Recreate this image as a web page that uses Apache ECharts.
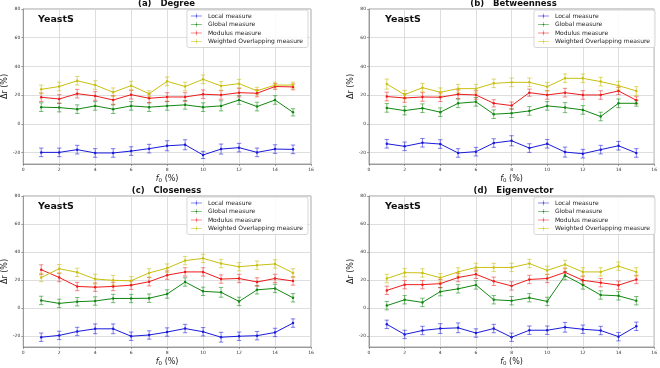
<!DOCTYPE html>
<html>
<head>
<meta charset="utf-8">
<script src="https://cdn.jsdelivr.net/npm/echarts@6/dist/echarts.min.js"></script>
<style>
  html, body { margin: 0; padding: 0; background: #fff; }
  #chart { width: 660px; height: 368px; }
</style>
</head>
<body>
<div id="chart"></div>
<script>
// f0 values (%)
const F0 = [1, 2, 3, 4, 5, 6, 7, 8, 9, 10, 11, 12, 13, 14, 15];
const SERIES_NAMES = ['Local measure', 'Global measure', 'Modulus measure', 'Weighted Overlapping measure'];
const PANEL_TITLES = ['(a)   Degree', '(b)   Betweenness', '(c)   Closeness', '(d)   Eigenvector'];

// (a) Degree
const degLocal    = [-19.9, -19.9, -18, -20.3, -20.3, -19, -17.3, -15.3, -14.6, -21.7, -17.6, -16.6, -19.9, -17.6, -17.8];
const degGlobal   = [11.6, 11.3, 10.2, 12.5, 10.2, 12.5, 11.6, 12.5, 13.2, 11.6, 12.5, 16.6, 12, 16.6, 8];
const degModulus  = [18.5, 17.3, 21, 19.4, 16.6, 20.3, 17.8, 18.7, 18.7, 20.6, 20.1, 21.7, 21.3, 26, 25.7];
const degWeighted = [24, 26, 30, 27, 22, 26.6, 21, 29.6, 26, 31, 26.4, 28, 23, 27, 27];
const degLocalErr    = [3, 3, 3, 3, 3, 3, 3, 3.5, 3.5, 2.5, 3.5, 3, 3, 3, 3];
const degGlobalErr   = [3, 3, 3, 3, 3, 3, 3, 3, 3, 3, 3.5, 3, 3, 3, 2.5];
const degModulusErr  = [3, 3, 3, 3, 3, 3, 3, 3, 3, 3, 3, 3, 2.5, 2, 2];
const degWeightedErr = [3, 3, 3, 3, 3, 3, 2, 3, 3, 3, 3, 3, 2.5, 2, 2];

// (b) Betweenness
const betLocal    = [-13.9, -15.7, -13.2, -14.1, -20.3, -19.4, -13.4, -11.8, -16.9, -13.9, -19.7, -20.8, -18, -15.3, -20.3];
const betGlobal   = [11.1, 9.2, 10.9, 8.1, 14.3, 15.3, 6.7, 7.4, 9, 12.5, 11.3, 9.7, 5.1, 14.3, 14.3];
const betModulus  = [19, 18, 18.7, 18.5, 20.6, 20.1, 14.3, 12.7, 21.7, 20.1, 21.7, 20.1, 20.1, 22.9, 16.4];
const betWeighted = [27.7, 20.3, 25.2, 22, 24.5, 24.5, 28.2, 28.9, 28.9, 25.9, 31.7, 31.7, 29.4, 26.6, 22.9];
const betLocalErr    = [3, 3, 3, 3, 3, 3, 3, 3.5, 3, 3, 3.5, 3, 3, 3, 3];
const betGlobalErr   = [3, 3, 3, 3, 3, 3, 3, 3, 3, 3, 3.5, 3, 3, 3, 2];
const betModulusErr  = [3, 3, 3, 3, 3, 3, 2.5, 2.5, 2.5, 3, 3, 3, 3, 2.5, 2.5];
const betWeightedErr = [3.5, 3, 3, 3, 3, 3, 3, 3, 3, 3, 3, 3, 3, 3, 3];

// (c) Closeness
const cloLocal    = [-21, -19.7, -16.9, -15, -15, -20.3, -19.4, -17.3, -14.8, -17.1, -21, -20.3, -19.9, -17.6, -10.9];
const cloGlobal   = [5.3, 3.2, 4.4, 4.9, 6.7, 6.7, 6.9, 9.9, 18.5, 11.8, 11.1, 4.6, 12.9, 13.9, 7.2];
const cloModulus  = [27.3, 21.7, 15.3, 14.8, 15.3, 16.2, 18.7, 23.4, 25.7, 25.7, 20.6, 21, 18.5, 21, 19.2];
const cloWeighted = [21.7, 28, 25.4, 20.6, 19.7, 19.4, 25, 28.4, 33.8, 35.4, 31.7, 29.4, 30.5, 31.4, 25];
const cloLocalErr    = [3, 3, 3, 3.5, 3.5, 3, 3, 3, 3, 3, 3.5, 3, 3, 3, 3];
const cloGlobalErr   = [3, 3, 3, 3, 3, 3, 3, 3, 3, 3, 3.5, 3, 3, 3, 3];
const cloModulusErr  = [3.5, 3, 3, 3, 3, 3, 3, 3, 3, 3, 3, 3, 3, 3, 3];
const cloWeightedErr = [3, 3, 3, 3.5, 3.5, 3, 3, 3, 3, 3, 3, 3, 3, 3, 3];

// (d) Eigenvector
const eigLocal    = [-11.8, -19, -16.2, -14.8, -14.3, -18, -14.8, -21, -16, -16, -13.9, -15.3, -16.2, -20.6, -13.2];
const eigGlobal   = [1.6, 5.8, 3.9, 11.6, 13.6, 16.4, 5.8, 5.1, 7.2, 4.6, 23.1, 16.4, 9.2, 8.6, 5.1];
const eigModulus  = [12.5, 16.6, 16.6, 17.3, 21.7, 24, 19, 15.7, 20.3, 21, 25.4, 19.7, 18, 16.2, 20.3];
const eigWeighted = [21, 25.2, 25, 21.5, 25.7, 28.9, 28.9, 28.9, 31.7, 26.8, 31, 25.7, 25.7, 29.8, 25.7];
const eigLocalErr    = [3, 3, 3, 3.5, 3.5, 3, 3, 3, 3, 3, 3.5, 3, 3, 3, 3];
const eigGlobalErr   = [3, 3, 3, 3, 3, 3, 3, 3, 3, 3, 3, 3, 3, 3, 3];
const eigModulusErr  = [3, 3, 3, 3, 3, 3, 3, 3, 3, 3, 3, 3, 3, 3, 3];
const eigWeightedErr = [3, 3, 3, 3, 3, 3, 3, 3, 3, 3, 3, 3, 3, 3, 3];

const PANELS = [
  [[degLocal, degLocalErr], [degGlobal, degGlobalErr], [degModulus, degModulusErr], [degWeighted, degWeightedErr]],
  [[betLocal, betLocalErr], [betGlobal, betGlobalErr], [betModulus, betModulusErr], [betWeighted, betWeightedErr]],
  [[cloLocal, cloLocalErr], [cloGlobal, cloGlobalErr], [cloModulus, cloModulusErr], [cloWeighted, cloWeightedErr]],
  [[eigLocal, eigLocalErr], [eigGlobal, eigGlobalErr], [eigModulus, eigModulusErr], [eigWeighted, eigWeightedErr]]
];

const COLORS = ['#1a1adb', '#118811', '#ee1c1c', '#c9c010'];
const ERR_COLORS = ['rgba(26,26,219,0.55)', 'rgba(17,136,17,0.55)', 'rgba(238,28,28,0.5)', 'rgba(201,192,16,0.6)'];

// plot areas (pixels)
const GRIDS = [
  { left: 22, top: 9, width: 289, height: 155 },
  { left: 369, top: 9, width: 289, height: 155 },
  { left: 22, top: 196, width: 289, height: 155 },
  { left: 369, top: 196, width: 289, height: 155 }
];

const FONT = 'DejaVu Sans';
// legend glyph: thin line, short error bar and a small marker
const LEGEND_ICON = 'path://M0,5.5h22v1h-22z M10.6,1h0.8v10h-0.8z M9.5,4.8h3v2.4h-3z';

function errorBarRender(color) {
  return function (params, api) {
    const x = api.value(0);
    const lo = api.coord([x, api.value(1)]);
    const hi = api.coord([x, api.value(2)]);
    const cap = 2.2;
    const style = { stroke: color, lineWidth: 1 };
    return {
      type: 'group',
      children: [
        { type: 'line', shape: { x1: lo[0], y1: lo[1], x2: hi[0], y2: hi[1] }, style: style },
        { type: 'line', shape: { x1: lo[0] - cap, y1: lo[1], x2: lo[0] + cap, y2: lo[1] }, style: style },
        { type: 'line', shape: { x1: hi[0] - cap, y1: hi[1], x2: hi[0] + cap, y2: hi[1] }, style: style }
      ]
    };
  };
}

const grid = [], xAxis = [], yAxis = [], series = [], legend = [], title = [];

GRIDS.forEach((g, p) => {
  grid.push(Object.assign({ show: true, borderColor: '#8a8a8a', borderWidth: 0.8, backgroundColor: '#fff' }, g));

  xAxis.push({
    type: 'value', gridIndex: p, min: 0, max: 16, interval: 2,
    name: '{i|f}{s|0} (%)', nameLocation: 'middle', nameGap: 10,
    nameTextStyle: {
      fontFamily: FONT, fontSize: 8, color: '#222',
      rich: {
        i: { fontFamily: FONT, fontSize: 8, fontStyle: 'italic', color: '#222' },
        s: { fontFamily: FONT, fontSize: 5.5, verticalAlign: 'bottom', padding: [4, 0, 0, 0], color: '#222' }
      }
    },
    axisLine: { show: true, onZero: false, lineStyle: { color: '#8a8a8a', width: 0.8 } },
    axisTick: { show: true, length: 2, lineStyle: { color: '#666', width: 0.6 } },
    axisLabel: { fontFamily: FONT, fontSize: 4.5, color: '#333', margin: 3 },
    splitLine: { show: true, lineStyle: { color: '#d6d6d6', width: 0.8 } }
  });

  yAxis.push({
    type: 'value', gridIndex: p, min: -28, max: 80,
    name: 'Δr (%)', nameLocation: 'middle', nameGap: 10,
    nameTextStyle: { fontFamily: FONT, fontSize: 8, color: '#222' },
    axisLine: { show: true, onZero: false, lineStyle: { color: '#8a8a8a', width: 0.8 } },
    axisTick: { show: true, length: 2, lineStyle: { color: '#666', width: 0.6 } },
    axisLabel: {
      fontFamily: FONT, fontSize: 4.5, color: '#333', margin: 3, showMinLabel: false,
      formatter: v => (v % 20 === 0 ? String(v) : '')
    },
    splitLine: { show: true, lineStyle: { color: '#d6d6d6', width: 0.8 } }
  });

  PANELS[p].forEach((pair, k) => {
    const vals = pair[0], errs = pair[1];
    series.push({
      type: 'custom', name: 'err' + p + k, xAxisIndex: p, yAxisIndex: p,
      renderItem: errorBarRender(ERR_COLORS[k]),
      encode: { x: 0, y: [1, 2] },
      data: F0.map((x, i) => [x, vals[i] - errs[i], vals[i] + errs[i]]),
      z: 2, silent: true
    });
  });
  PANELS[p].forEach((pair, k) => {
    series.push({
      type: 'line', name: SERIES_NAMES[k], xAxisIndex: p, yAxisIndex: p,
      data: F0.map((x, i) => [x, pair[0][i]]),
      symbol: 'circle', symbolSize: 2.5, showSymbol: true,
      lineStyle: { color: COLORS[k], width: 1 },
      itemStyle: { color: COLORS[k] },
      z: 3, silent: true, animation: false
    });
  });

  const right = 660 - (g.left + g.width);
  legend.push({
    data: SERIES_NAMES.map(n => ({ name: n, icon: LEGEND_ICON })),
    orient: 'vertical', right: right + 3, top: g.top + 1,
    itemWidth: 11, itemHeight: 6, itemGap: 2.5, padding: [3, 5, 3, 4],
    backgroundColor: 'rgba(255,255,255,0.85)', borderColor: '#cccccc', borderWidth: 0.8, borderRadius: 2,
    textStyle: { fontFamily: FONT, fontSize: 6, color: '#222', padding: [0, 0, 0, 1] },
    selectedMode: false
  });

  title.push({
    text: PANEL_TITLES[p], left: g.left + g.width / 2, top: g.top - 10, textAlign: 'center',
    textStyle: { fontFamily: FONT, fontSize: 8.5, fontWeight: 'bold', color: '#111' }, padding: 0
  });
  title.push({
    text: 'YeastS', left: g.left + 16, top: g.top + 6,
    textStyle: { fontFamily: FONT, fontSize: 9.5, fontWeight: 'bold', color: '#111' }, padding: 0
  });
});

const chart = echarts.init(document.getElementById('chart'), null, { renderer: 'canvas' });
chart.setOption({
  backgroundColor: '#fff',
  animation: false,
  title: title,
  grid: grid,
  xAxis: xAxis,
  yAxis: yAxis,
  legend: legend,
  series: series
});
</script>
</body>
</html>
